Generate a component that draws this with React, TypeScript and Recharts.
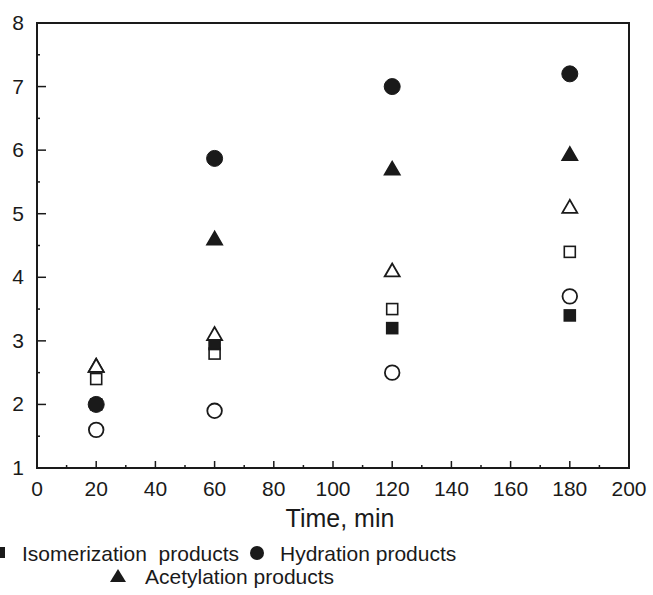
import React from "react";
import { ScatterChart, Scatter, XAxis, YAxis, ReferenceArea } from "recharts";

const times = [20, 60, 120, 180];
const isomerizationFilled = [2.0, 2.95, 3.2, 3.4];
const hydrationFilled = [2.0, 5.87, 7.0, 7.2];
const acetylationFilled = [2.6, 4.6, 5.7, 5.93];
const isomerizationOpen = [2.4, 2.8, 3.5, 4.4];
const hydrationOpen = [1.6, 1.9, 2.5, 3.7];
const acetylationOpen = [2.6, 3.1, 4.1, 5.1];

const xTicks = [0, 10, 20, 30, 40, 50, 60, 70, 80, 90, 100, 110, 120, 130, 140, 150, 160, 170, 180, 190, 200];
const yTicks = [1, 1.5, 2, 2.5, 3, 3.5, 4, 4.5, 5, 5.5, 6, 6.5, 7, 7.5, 8];

const toPoints = (vals: number[]) => vals.map((v, i) => ({ x: times[i], y: v }));

const FONT = "'Liberation Sans', Arial, sans-serif";
const INK = "#1a1a1a";

const Square = (filled: boolean) => (p: any) => {
  const s = 11;
  return (
    <rect x={p.cx - s / 2} y={p.cy - s / 2} width={s} height={s}
      fill={filled ? INK : "#fff"} stroke={INK} strokeWidth={1.6} />
  );
};
const Circle = (filled: boolean) => (p: any) => (
  <circle cx={p.cx} cy={p.cy} r={filled ? 8 : 7.3}
    fill={filled ? INK : "#fff"} stroke={INK} strokeWidth={filled ? 1 : 1.8} />
);
const Triangle = (filled: boolean) => (p: any) => {
  const w = 15, h = 13;
  const pts = `${p.cx},${p.cy - h / 2 - 1} ${p.cx - w / 2},${p.cy + h / 2 - 1} ${p.cx + w / 2},${p.cy + h / 2 - 1}`;
  return <polygon points={pts} fill={filled ? INK : "#fff"} stroke={INK} strokeWidth={1.8} strokeLinejoin="miter" />;
};

const XTick = (p: any) => {
  const v = p.payload.value;
  const major = v % 20 === 0;
  const edge = v === 0 || v === 200;
  return (
    <g>
      {!edge && <line x1={p.x} x2={p.x} y1={p.y} y2={p.y - (major ? 7 : 3)} stroke={INK} strokeWidth={1.5} />}
      {major && (
        <text x={p.x} y={p.y + 28} textAnchor="middle" fontSize={21} fontFamily={FONT} fill={INK}>{v}</text>
      )}
    </g>
  );
};

const YTick = (p: any) => {
  const v = p.payload.value;
  const major = Number.isInteger(v);
  const edge = v === 1 || v === 8;
  return (
    <g>
      {!edge && <line x1={p.x} x2={p.x + (major ? 9 : 3)} y1={p.y} y2={p.y} stroke={INK} strokeWidth={1.5} />}
      {major && (
        <text x={p.x - 13} y={p.y + 7} textAnchor="end" fontSize={21} fontFamily={FONT} fill={INK}>{v}</text>
      )}
    </g>
  );
};

export default function App() {
  return (
    <div style={{ position: "absolute", left: 0, top: 0, width: 653, height: 595, background: "#fff" }}>
      <ScatterChart width={653} height={595} margin={{ top: 23, left: 36, right: 24, bottom: 126 }}>
        <XAxis type="number" dataKey="x" domain={[0, 200]} ticks={xTicks} interval={0}
          height={1} tickSize={0} tickMargin={0} axisLine={false} tick={<XTick />} allowDataOverflow />
        <YAxis type="number" dataKey="y" domain={[1, 8]} ticks={yTicks} interval={0}
          width={1} tickSize={0} tickMargin={0} axisLine={false} tick={<YTick />} allowDataOverflow />
        <ReferenceArea x1={0} x2={200} y1={1} y2={8} fill="none" fillOpacity={0} stroke={INK} strokeWidth={2} ifOverflow="visible" />
        <Scatter data={toPoints(hydrationOpen)} shape={Circle(false)} isAnimationActive={false} />
        <Scatter data={toPoints(isomerizationOpen)} shape={Square(false)} isAnimationActive={false} />
        <Scatter data={toPoints(isomerizationFilled)} shape={Square(true)} isAnimationActive={false} />
        <Scatter data={toPoints(acetylationFilled)} shape={Triangle(true)} isAnimationActive={false} />
        <Scatter data={toPoints(acetylationOpen)} shape={Triangle(false)} isAnimationActive={false} />
        <Scatter data={toPoints(hydrationFilled)} shape={Circle(true)} isAnimationActive={false} />
      </ScatterChart>
      <svg width={653} height={100} style={{ position: "absolute", left: 0, top: 495 }}>
        <text x={340} y={32} textAnchor="middle" fontSize={25} fontFamily={FONT} fill={INK}>Time, min</text>
        <rect x={-5} y={52} width={10} height={11} fill={INK} />
        <text x={22} y={66} fontSize={21} fontFamily={FONT} fill={INK} style={{ whiteSpace: "pre" }}>Isomerization  products</text>
        <circle cx={257} cy={58} r={7} fill={INK} />
        <text x={280} y={66} fontSize={21} fontFamily={FONT} fill={INK}>Hydration products</text>
        <polygon points="118,74 110,87 126,87" fill={INK} />
        <text x={145} y={89} fontSize={21} fontFamily={FONT} fill={INK}>Acetylation products</text>
      </svg>
    </div>
  );
}
